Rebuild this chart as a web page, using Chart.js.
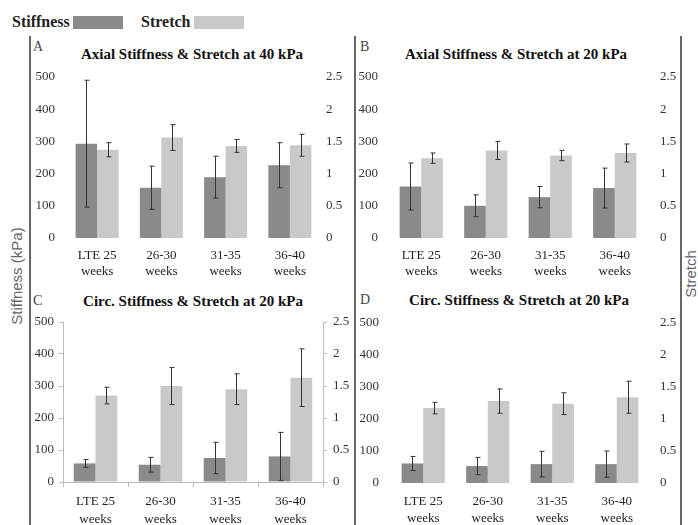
<!DOCTYPE html>
<html>
<head>
<meta charset="utf-8">
<script src="https://cdn.jsdelivr.net/npm/chart.js@4.4.1/dist/chart.umd.min.js"></script>
<style>
  body { margin: 0; background: #fff; }
  #wrap { position: relative; width: 698px; height: 525px; overflow: hidden; font-family: "Liberation Serif", serif; }
  canvas { position: absolute; }
  .txt { position: absolute; white-space: nowrap; }
  .title { font-weight: bold; font-size: 15px; color: #111; text-align: center; width: 300px; line-height: 16px; }
  .letter { font-size: 14px; color: #444; line-height: 14px; }
  .vline { position: absolute; top: 36px; height: 489px; width: 2px; background: #666; }
  .box { position: absolute; height: 13px; width: 50px; }
</style>
</head>
<body>
<div id="wrap">
  <!-- leyenda -->
  <div class="txt" style="left:12px; top:13px; font-weight:bold; font-size:16px; color:#222;">Stiffness</div>
  <div class="box" style="left:73px; top:16px; background:#8a8a8a;"></div>
  <div class="txt" style="left:141px; top:13px; font-weight:bold; font-size:16px; color:#222;">Stretch</div>
  <div class="box" style="left:194px; top:16px; background:#c9c9c9;"></div>

  <!-- lineas verticales -->
  <div class="vline" style="left:29px;"></div>
  <div class="vline" style="left:354px;"></div>
  <div class="vline" style="left:680px;"></div>

  <!-- titulos de ejes -->
  <div class="txt" style="left:16px; top:276px; transform: translate(-50%,-50%) rotate(-90deg); font-family:'Liberation Sans',sans-serif; font-size:15px; color:#666;">Stiffness (kPa)</div>
  <div class="txt" style="left:690px; top:274px; transform: translate(-50%,-50%) rotate(-90deg); font-family:'Liberation Sans',sans-serif; font-size:15px; color:#666;">Stretch</div>

  <!-- letras y titulos de paneles -->
  <div class="txt letter" style="left:33px; top:40px;">A</div>
  <div class="txt letter" style="left:360px; top:40px;">B</div>
  <div class="txt letter" style="left:33px; top:294px;">C</div>
  <div class="txt letter" style="left:360px; top:293px;">D</div>
  <div class="txt title" style="left:42px; top:46px;">Axial Stiffness &amp; Stretch at 40 kPa</div>
  <div class="txt title" style="left:366px; top:46px;">Axial Stiffness &amp; Stretch at 20 kPa</div>
  <div class="txt title" style="left:43px; top:293px;">Circ. Stiffness &amp; Stretch at 20 kPa</div>
  <div class="txt title" style="left:369px; top:292px;">Circ. Stiffness &amp; Stretch at 20 kPa</div>

  <canvas id="chartA" width="322" height="250" style="left:32px; top:40px;"></canvas>
  <canvas id="chartB" width="322" height="250" style="left:357px; top:40px;"></canvas>
  <canvas id="chartC" width="322" height="235" style="left:32px; top:290px;"></canvas>
  <canvas id="chartD" width="322" height="235" style="left:357px; top:290px;"></canvas>
</div>

<script>
// Categorias (grupos de edad gestacional)
const categorias = [["LTE 25", "weeks"], ["26-30", "weeks"], ["31-35", "weeks"], ["36-40", "weeks"]]

// Ticks de los ejes
const ticksStiffness = [0, 100, 200, 300, 400, 500]
const ticksStretch = [0, 0.5, 1, 1.5, 2, 2.5]

// Panel A - axial a 40 kPa
const stiffA = [293, 156, 189, 226]
const stiffErrA = [197, 67, 65, 70]
const stretchA = [1.37, 1.56, 1.43, 1.44]
const stretchErrA = [0.11, 0.2, 0.1, 0.17]

// Panel B - axial a 20 kPa
const stiffB = [160, 100, 127, 155]
const stiffErrB = [73, 34, 33, 62]
const stretchB = [1.24, 1.36, 1.28, 1.32]
const stretchErrB = [0.08, 0.14, 0.08, 0.14]

// Panel C - circ. a 20 kPa
const stiffC = [58, 54, 75, 80]
const stiffErrC = [12, 23, 49, 75]
const stretchC = [1.35, 1.5, 1.45, 1.63]
const stretchErrC = [0.13, 0.29, 0.24, 0.45]

// Panel D - circ. a 20 kPa
const stiffD = [61, 53, 59, 59]
const stiffErrD = [22, 27, 40, 41]
const stretchD = [1.17, 1.28, 1.24, 1.34]
const stretchErrD = [0.09, 0.19, 0.17, 0.25]

const fuente = "'Liberation Serif', 'Times New Roman', serif"
Chart.defaults.font.family = fuente
Chart.defaults.color = "#222"

// Plugin para dibujar barras de error
const errorBars = {
    id: "errorBars",
    afterDatasetsDraw(chart) {
        const ctx = chart.ctx
        ctx.save()
        ctx.strokeStyle = "#333"
        ctx.lineWidth = 1
        chart.data.datasets.forEach((ds, i) => {
            const meta = chart.getDatasetMeta(i)
            const scale = chart.scales[ds.yAxisID]
            meta.data.forEach((bar, j) => {
                const v = ds.data[j]
                const e = ds.errors[j]
                const x = Math.round(bar.x) + 0.5
                const top = scale.getPixelForValue(v + e)
                const bottom = scale.getPixelForValue(v - e)
                ctx.beginPath()
                ctx.moveTo(x, top)
                ctx.lineTo(x, bottom)
                ctx.moveTo(x - 2, top)
                ctx.lineTo(x + 3, top)
                ctx.moveTo(x - 2, bottom)
                ctx.lineTo(x + 3, bottom)
                ctx.stroke()
            })
        })
        ctx.restore()
    }
}

function crearPanel(id, stiff, stiffErr, stretch, stretchErr, cfg) {
    const conEjes = cfg.ejes
    const gridY = {
        display: conEjes,
        drawOnChartArea: false,
        drawTicks: conEjes,
        tickLength: 4,
        color: "#bbb"
    }
    return new Chart(document.getElementById(id), {
        type: "bar",
        data: {
            labels: categorias,
            datasets: [
                {
                    label: "Stiffness",
                    data: stiff,
                    errors: stiffErr,
                    yAxisID: "y",
                    backgroundColor: "#8a8a8a",
                    categoryPercentage: 0.67,
                    barPercentage: 1.0
                },
                {
                    label: "Stretch",
                    data: stretch,
                    errors: stretchErr,
                    yAxisID: "y1",
                    backgroundColor: "#c9c9c9",
                    categoryPercentage: 0.67,
                    barPercentage: 1.0
                }
            ]
        },
        options: {
            responsive: false,
            animation: false,
            devicePixelRatio: 1,
            layout: { padding: { top: cfg.top, left: 0, right: 0, bottom: 0 } },
            plugins: {
                legend: { display: false },
                title: { display: false },
                tooltip: { enabled: false }
            },
            scales: {
                x: {
                    grid: {
                        display: conEjes,
                        drawOnChartArea: false,
                        drawTicks: conEjes,
                        tickLength: 5,
                        color: "#bbb"
                    },
                    border: { display: conEjes, color: "#bbb" },
                    ticks: {
                        font: { family: fuente, size: 13, lineHeight: cfg.xLine },
                        color: "#222",
                        padding: cfg.xPad,
                        maxRotation: 0,
                        autoSkip: false
                    },
                    afterFit: (s) => { s.height = cfg.bottom }
                },
                y: {
                    position: "left",
                    min: 0,
                    max: 500,
                    afterBuildTicks: (s) => { s.ticks = ticksStiffness.map(v => ({ value: v })) },
                    grid: gridY,
                    border: { display: conEjes, color: "#bbb" },
                    ticks: { font: { family: fuente, size: 13 }, color: "#333", padding: cfg.leftPad, callback: (v) => `${v}` },
                    afterFit: (s) => { s.width = cfg.left }
                },
                y1: {
                    position: "right",
                    min: 0,
                    max: 2.5,
                    afterBuildTicks: (s) => { s.ticks = ticksStretch.map(v => ({ value: v })) },
                    grid: gridY,
                    border: { display: conEjes, color: "#bbb" },
                    ticks: { font: { family: fuente, size: 13 }, color: "#333", padding: cfg.rightPad, callback: (v) => `${v}` },
                    afterFit: (s) => { s.width = cfg.right }
                }
            }
        },
        plugins: [errorBars]
    })
}

crearPanel("chartA", stiffA, stiffErrA, stretchA, stretchErrA,
    { ejes: false, top: 37, bottom: 52, left: 33, right: 32, leftPad: 10, rightPad: 4, xPad: 10, xLine: 1.2 })
crearPanel("chartB", stiffB, stiffErrB, stretchB, stretchErrB,
    { ejes: false, top: 37, bottom: 52, left: 32, right: 32, leftPad: 11, rightPad: 13, xPad: 10, xLine: 1.2 })
crearPanel("chartC", stiffC, stiffErrC, stretchC, stretchErrC,
    { ejes: true, top: 32, bottom: 43, left: 31, right: 31, leftPad: 5, rightPad: 6, xPad: 5, xLine: 1.4 })
crearPanel("chartD", stiffD, stiffErrD, stretchD, stretchErrD,
    { ejes: false, top: 33, bottom: 42, left: 34, right: 30, leftPad: 12, rightPad: 11, xPad: 10, xLine: 1.3 })
</script>
</body>
</html>
